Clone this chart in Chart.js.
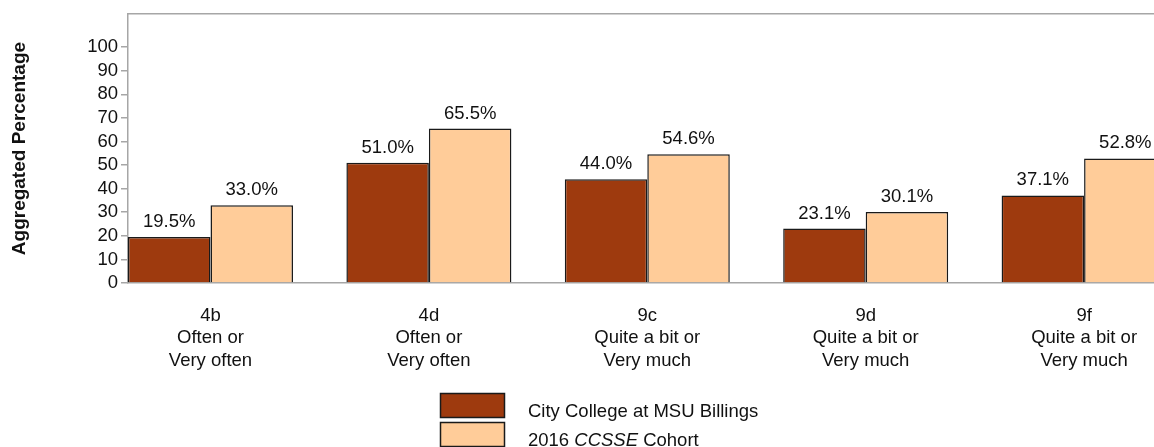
<!DOCTYPE html>
<html><head><meta charset="utf-8">
<script src="https://cdn.jsdelivr.net/npm/chart.js@4/dist/chart.umd.min.js"></script>
<style>html,body{margin:0;padding:0;background:#fff;overflow:hidden}#wrap{width:1154px;height:447px;position:relative}canvas{display:block}</style>
</head><body><div id="wrap"><canvas id="c" width="1154" height="447"></canvas></div>
<script>
// ---- data ----
const itemCodes = ['4b', '4d', '9c', '9d', '9f'];
const itemDescriptors = [
  ['Often or', 'Very often'],
  ['Often or', 'Very often'],
  ['Quite a bit or', 'Very much'],
  ['Quite a bit or', 'Very much'],
  ['Quite a bit or', 'Very much']
];
const collegeValues = [19.5, 51.0, 44.0, 23.1, 37.1];
const cohortValues = [33.0, 65.5, 54.6, 30.1, 52.8];
const seriesNames = ['City College at MSU Billings', '2016 CCSSE Cohort'];
const italicWord = 'CCSSE';
const yTicks = [0, 10, 20, 30, 40, 50, 60, 70, 80, 90, 100];
const yTitle = 'Aggregated Percentage';

// ---- style ----
const FONT = "'Liberation Sans', Arial, Helvetica, sans-serif";
const AXIS_GRAY = '#A6A6A6';
const DARK = '#9E3A0E';
const LIGHT = '#FFCC99';
const EDGE = '#1a1a1a';
const FS = 18.5;
const X_MIN = -0.3777, X_MAX = 4.3201;

Chart.defaults.font.family = FONT;
Chart.defaults.color = '#000';

const valueLabels = {
  id: 'valueLabels',
  afterDatasetsDraw(chart) {
    const ctx = chart.ctx;
    ctx.save();
    ctx.font = FS + 'px ' + FONT;
    ctx.fillStyle = '#111';
    ctx.textAlign = 'center';
    ctx.textBaseline = 'alphabetic';
    chart.data.datasets.forEach((ds, di) => {
      chart.getDatasetMeta(di).data.forEach((bar, i) => {
        const v = ds.data[i].y;
        ctx.fillText(v.toFixed(1) + '%', bar.x, bar.y - 10);
      });
    });
    ctx.restore();
  }
};

const customLegend = {
  id: 'customLegend',
  afterDraw(chart) {
    const ctx = chart.ctx;
    const boxX = 440.5, boxW = 64, boxH = 24, textX = 528;
    const rowTop = [393.5, 422.5];
    const rowBase = [417, 446];
    ctx.save();
    chart.data.datasets.forEach((ds, di) => {
      ctx.fillStyle = ds.backgroundColor;
      ctx.fillRect(boxX, rowTop[di], boxW, boxH);
      ctx.strokeStyle = EDGE;
      ctx.lineWidth = 1.5;
      ctx.strokeRect(boxX, rowTop[di], boxW, boxH);
      const name = ds.label;
      const parts = [];
      const idx = name.indexOf(italicWord);
      if (idx >= 0) {
        parts.push([name.slice(0, idx), false]);
        parts.push([italicWord, true]);
        parts.push([name.slice(idx + italicWord.length), false]);
      } else parts.push([name, false]);
      let x = textX;
      ctx.fillStyle = '#111';
      ctx.textAlign = 'left';
      ctx.textBaseline = 'alphabetic';
      parts.forEach(([t, it]) => {
        ctx.font = (it ? 'italic ' : '') + FS + 'px ' + FONT;
        ctx.fillText(t, x, rowBase[di]);
        x += ctx.measureText(t).width;
      });
    });
    ctx.restore();
  }
};

new Chart(document.getElementById('c'), {
  type: 'bar',
  data: {
    datasets: [
      {
        label: seriesNames[0],
        data: collegeValues.map((v, i) => ({ x: i, y: v })),
        backgroundColor: DARK, borderColor: EDGE, borderWidth: 1.5,
        categoryPercentage: 0.7555, barPercentage: 1.0
      },
      {
        label: seriesNames[1],
        data: cohortValues.map((v, i) => ({ x: i, y: v })),
        backgroundColor: LIGHT, borderColor: EDGE, borderWidth: 1.5,
        categoryPercentage: 0.7555, barPercentage: 1.0
      }
    ]
  },
  options: {
    responsive: false,
    animation: false,
    layout: { padding: 0 },
    plugins: { legend: { display: false }, tooltip: { enabled: false } },
    scales: {
      x: {
        type: 'linear', position: 'bottom', min: X_MIN, max: X_MAX, offset: false,
        afterBuildTicks: s => { s.ticks = itemCodes.map((_, i) => ({ value: i })); },
        afterFit: s => { s.height = 164; s.paddingLeft = 0; s.paddingRight = 0; },
        ticks: {
          autoSkip: false, maxRotation: 0, minRotation: 0, padding: 22,
          font: { size: FS }, color: '#111',
          callback: v => [itemCodes[v], ...itemDescriptors[v]]
        },
        grid: { drawOnChartArea: false, drawTicks: false, offset: false },
        border: { color: AXIS_GRAY, width: 1.5 }
      },
      xTop: {
        type: 'linear', position: 'top', min: X_MIN, max: X_MAX, offset: false,
        afterFit: s => { s.height = 14; s.paddingLeft = 0; s.paddingRight = 0; },
        ticks: { display: false },
        grid: { drawOnChartArea: false, drawTicks: false, offset: false },
        border: { color: AXIS_GRAY, width: 1.5 }
      },
      y: {
        min: 0, max: 114,
        afterBuildTicks: s => { s.ticks = yTicks.map(v => ({ value: v })); },
        afterFit: s => { s.width = 128; },
        ticks: { font: { size: FS }, color: '#111', padding: 3 },
        grid: { drawOnChartArea: false, tickLength: 7, color: AXIS_GRAY, lineWidth: 1.5 },
        border: { color: AXIS_GRAY, width: 1.5 },
        title: {
          display: true, text: yTitle, color: '#111',
          font: { size: 19, weight: 'bold' }, padding: { top: 8, bottom: 0 }
        }
      }
    }
  },
  plugins: [valueLabels, customLegend]
});
</script>
</body></html>
